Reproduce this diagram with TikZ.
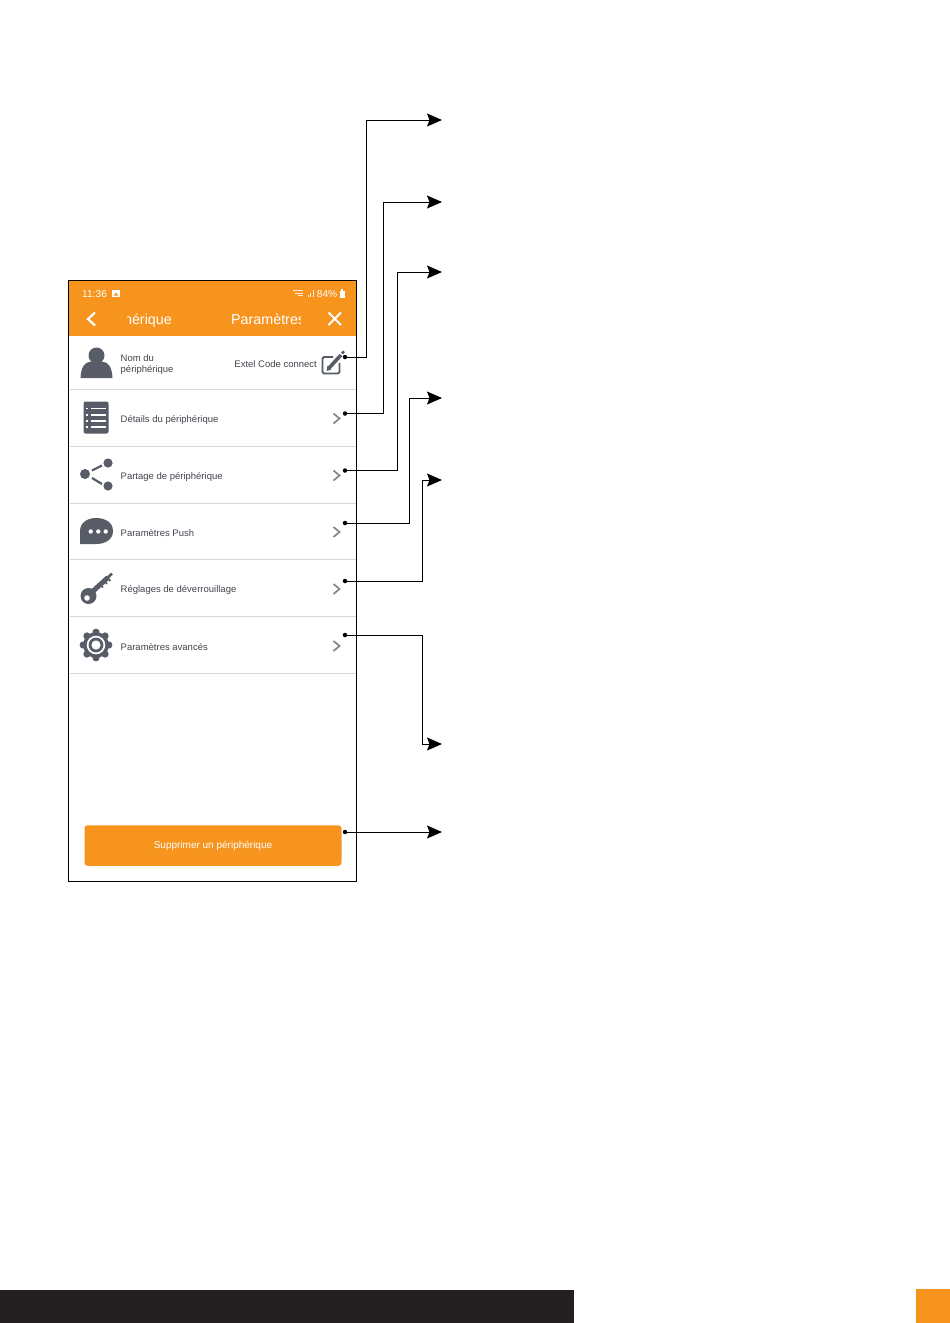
\documentclass[tikz,border=0pt]{standalone}
\usepackage{fontspec}
\setmainfont{Liberation Sans}
\usetikzlibrary{arrows.meta}
\definecolor{extorange}{RGB}{247,148,30}
\definecolor{iconGray}{RGB}{88,92,102}
\definecolor{rowText}{RGB}{65,68,76}
\definecolor{sepGray}{RGB}{214,214,214}
\definecolor{barBlack}{RGB}{35,31,32}
\tikzset{
	rowlabel/.style={anchor=west,inner sep=0pt,text=rowText,font=\fontsize{9.5}{11.5}\selectfont,align=left},
	headlabel/.style={inner sep=0pt,text=white,font=\fontsize{14.3}{16}\selectfont},
	statuslabel/.style={inner sep=0pt,text=white,font=\fontsize{10.2}{11}\selectfont},
	calldot/.style={circle,fill=black,inner sep=0pt,minimum size=4.5pt},
	callout/.style={draw=black,line width=1pt,-{Stealth[length=15pt,width=13pt,inset=2.5pt]}},
	sepline/.style={draw=sepGray,line width=1pt},
	chevron/.style={draw=iconGray!75,line width=1.7pt},
	whitestroke/.style={draw=white,line width=2pt},
}
\begin{document}
\begin{tikzpicture}[x=1pt,y=-1pt]
	\useasboundingbox (0,0) rectangle (950,1323);
	% bottom bars
	\fill[barBlack] (0,1290) rectangle (574,1323);
	\fill[extorange] (916,1289) rectangle (950,1323);
	% phone header
	\fill[extorange] (68,280) rectangle (356.5,336);
	\node[statuslabel,anchor=west] (clock) at (82,293.5) {11:36};
	\fill[white] (112,289.5) rectangle (120,297);
	\fill[extorange] (113.5,295.5) -- (116,292.5) -- (118.5,295.5) -- cycle;
	\node[statuslabel,anchor=east] (battery) at (337.5,293.5) {84\%};
	\fill[white] (340,290.5) rectangle (344.5,297.5);
	\fill[white] (341.3,289.3) rectangle (343.2,290.5);
	% wifi and signal marks
	\draw[white!85!extorange,line width=.8pt] (293,290.5) -- (303,290.5) (295,293) -- (303,293) (297.5,295.5) -- (303,295.5);
	\draw[white!85!extorange,line width=1pt] (308,297) -- (308,295) (310.5,297) -- (310.5,292.5) (313,297) -- (313,290);
	\begin{scope}
		\clip (127,305) rectangle (300,332);
		\node[headlabel,anchor=base east] (titleleft) at (172,324) {périphérique};
		\node[headlabel,anchor=base west] (titleright) at (231,324) {Paramètres};
	\end{scope}
	\draw[whitestroke,line width=2.2pt] (95,312.5) -- (88,319) -- (95,325.5);
	\draw[whitestroke] (328.5,312.5) -- (341,325) (341,312.5) -- (328.5,325);
	% separators
	\draw[sepline] (70,389.5) -- (356,389.5);
	\draw[sepline] (70,446.5) -- (356,446.5);
	\draw[sepline] (70,503) -- (356,503);
	\draw[sepline] (70,559.5) -- (356,559.5);
	\draw[sepline] (70,616.5) -- (356,616.5);
	\draw[sepline] (70,673.5) -- (356,673.5);
	% frame
	\draw[black,line width=1pt] (68,280) rectangle (356.5,881);
	% row labels
	\node[rowlabel] (name) at (120.5,364.5) {Nom du\\périphérique};
	\node[rowlabel,anchor=east] (extel) at (317,364.5) {Extel Code connect};
	\node[rowlabel] (details) at (120.5,419.5) {Détails du périphérique};
	\node[rowlabel] (share) at (120.5,476.5) {Partage de périphérique};
	\node[rowlabel] (push) at (120.5,533) {Paramètres Push};
	\node[rowlabel] (unlock) at (120.5,590) {Réglages de déverrouillage};
	\node[rowlabel] (advanced) at (120.5,647) {Paramètres avancés};
	% person icon
	\fill[iconGray] (96.5,355.5) circle (8);
	\fill[iconGray] (80.5,378) .. controls (81,368) and (84,362) .. (91,361.5) -- (102,361.5) .. controls (109,362) and (112,368) .. (112.5,378) -- cycle;
	% edit icon
	\draw[iconGray,line width=1.8pt,rounded corners=1.5pt] (333,357) -- (322.5,357) -- (322.5,373.5) -- (339.5,373.5) -- (339.5,363);
	\draw[iconGray,line width=3.6pt] (329,368) -- (341,355);
	\fill[iconGray] (326.5,371) -- (327.5,365.5) -- (331.5,369.5) -- cycle;
	\draw[iconGray,line width=2.6pt] (342,353.5) -- (344,351.3);
	% list icon
	\fill[iconGray,rounded corners=2pt] (83.5,401.5) rectangle (108.5,433.5);
	\foreach \rowy in {408.5,415,421,427}{
		\draw[white,line width=1.5pt] (86,\rowy) -- (88,\rowy) (90.5,\rowy) -- (105.5,\rowy);
	}
	% share icon
	\draw[iconGray,line width=2.2pt] (92,470.5) -- (102,465.5) (92,478) -- (102,484);
	\fill[iconGray] (85,474) circle (5);
	\fill[iconGray] (108,463) circle (4.6);
	\fill[iconGray] (108,486) circle (4.6);
	% chat icon
	\fill[iconGray] (80,544) -- (80,531) .. controls (80,523) and (87,518) .. (96,518) .. controls (106,518) and (113,523) .. (113,531) .. controls (113,539) and (106,544) .. (96,544) -- cycle;
	\fill[white] (90.7,531.5) circle (2.2) (98.3,531.5) circle (2.2) (105.7,531.5) circle (2.2);
	% key icon
	\draw[iconGray,line width=5pt] (92,592) -- (108,577.5);
	\draw[iconGray,line width=2.6pt] (106,579.5) -- (112,573.5);
	\draw[iconGray,line width=1.6pt] (100,584) -- (103,587.5) (104,580.5) -- (107,584) (107.5,577.5) -- (110.5,581);
	\fill[iconGray] (88.5,596) circle (8);
	\fill[white] (87,598) circle (2.8);
	% gear icon
	\foreach \toothang in {0,45,...,315}{
		\fill[iconGray] (96,645) ++(\toothang:12.8) circle (3.6);
	}
	\fill[iconGray] (96,645) circle (12.8);
	\fill[white] (96,645) circle (9.3);
	\fill[iconGray] (96,645) circle (7.4);
	\fill[white] (96,645) circle (4.6);
	% chevrons
	\draw[chevron] (333.5,413.5) -- (339.5,418.5) -- (333.5,423.5);
	\draw[chevron] (333.5,470.5) -- (339.5,475.5) -- (333.5,480.5);
	\draw[chevron] (333.5,527) -- (339.5,532) -- (333.5,537);
	\draw[chevron] (333.5,584) -- (339.5,589) -- (333.5,594);
	\draw[chevron] (333.5,641) -- (339.5,646) -- (333.5,651);
	% delete button
	\node[draw=none,fill=extorange,rounded corners=3pt,minimum width=257pt,minimum height=40.5pt,inner sep=0pt,text=white,font=\fontsize{10}{12}\selectfont] (delete) at (213,845.5) {\raisebox{-1pt}{Supprimer un périphérique}};
	% callout dots
	\node[calldot] (dotname) at (345,357) {};
	\node[calldot] (dotdetails) at (345,413.5) {};
	\node[calldot] (dotshare) at (345,470.5) {};
	\node[calldot] (dotpush) at (345,523) {};
	\node[calldot] (dotunlock) at (345,581) {};
	\node[calldot] (dotadvanced) at (345,635) {};
	\node[calldot] (dotdelete) at (345,832) {};
	% arrow ends
	\coordinate (endname) at (442,120);
	\coordinate (enddetails) at (442,202);
	\coordinate (endshare) at (442,272);
	\coordinate (endpush) at (442,398);
	\coordinate (endunlock) at (442,480);
	\coordinate (endadvanced) at (442,744);
	\coordinate (enddelete) at (442,832);
	% callouts
	\draw[callout] (dotname.center) -- (366,357) |- (endname);
	\draw[callout] (dotdetails.center) -- (383,413.5) |- (enddetails);
	\draw[callout] (dotshare.center) -- (397,470.5) |- (endshare);
	\draw[callout] (dotpush.center) -- (409,523) |- (endpush);
	\draw[callout] (dotunlock.center) -- (422,581) |- (endunlock);
	\draw[callout] (dotadvanced.center) -- (422,635) |- (endadvanced);
	\draw[callout] (dotdelete.center) -- (enddelete);
\end{tikzpicture}
\end{document}
